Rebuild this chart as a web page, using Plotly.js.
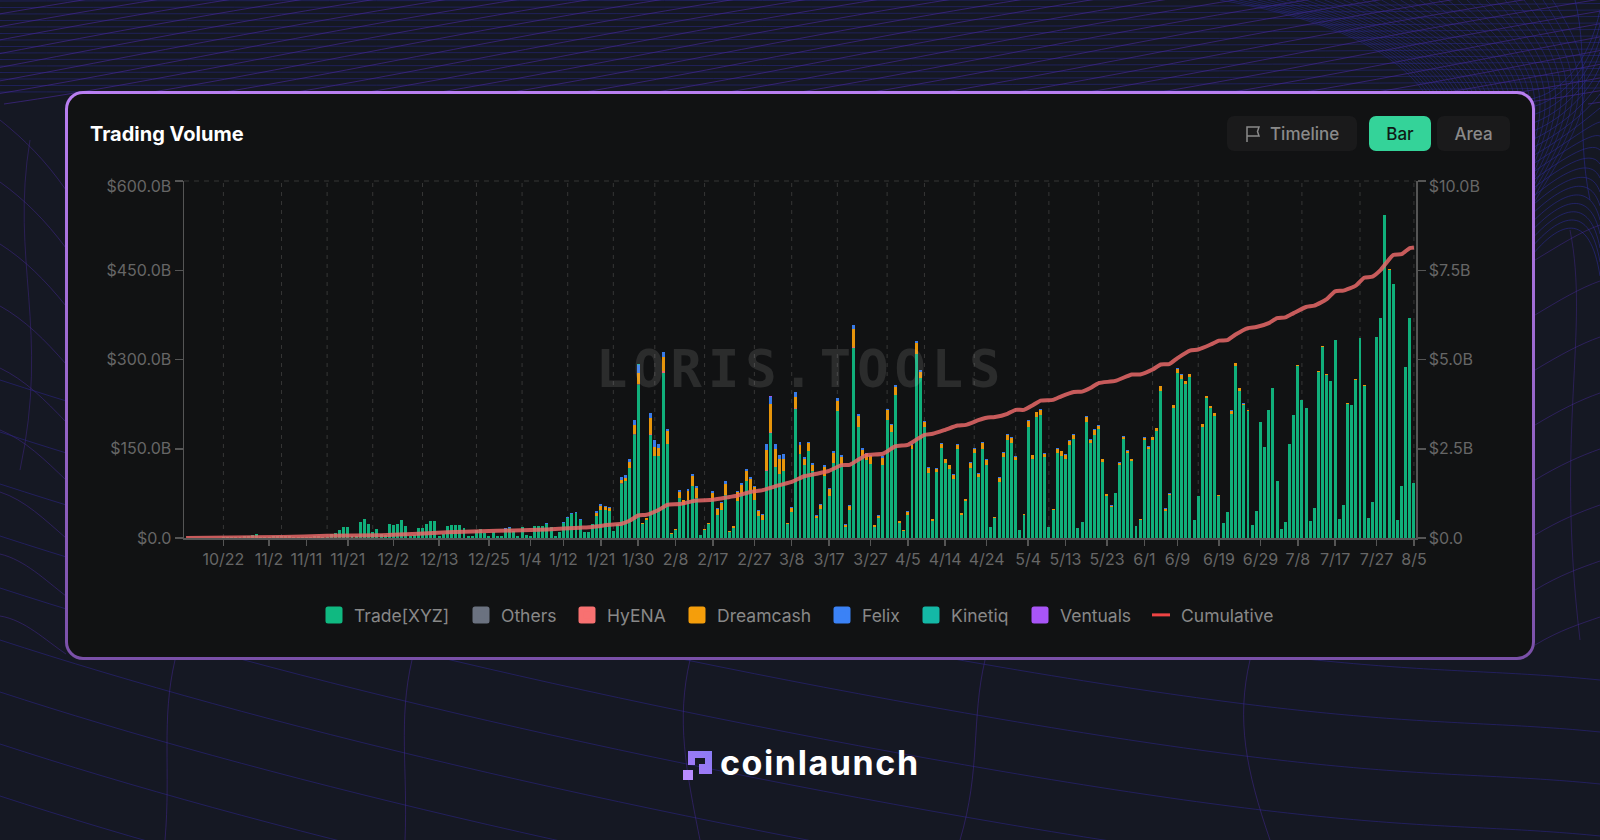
<!DOCTYPE html>
<html>
<head>
<meta charset="utf-8">
<title>Trading Volume</title>
<script src="https://cdn.plot.ly/plotly-3.0.1.min.js"></script>
<style>
html,body{margin:0;padding:0;background:#151823;width:1600px;height:840px;overflow:hidden;font-family:Inter,sans-serif}
#bg{position:absolute;left:0;top:0}
#card{position:absolute;left:65px;top:91px;width:1470px;height:569px;box-sizing:border-box;border:3px solid transparent;border-radius:18px;
background:linear-gradient(#111213,#111213) padding-box,linear-gradient(180deg,#b97ff2,#7a50a8) border-box}
#chart{position:absolute;left:0;top:0;width:1600px;height:840px}
.btn{position:absolute;top:116px;height:35px;line-height:35px;border-radius:7px;background:#1a1a1b;color:#8a8a8a;font:500 17px/37px Inter,sans-serif;text-align:center;box-sizing:border-box}
#btnBar{background:#34d399;color:#0f1a16}
#logoText{position:absolute;left:720px;top:741px;color:#fff;font:700 34px/44px Inter,sans-serif;letter-spacing:1.6px}
.annotation-text{letter-spacing:6px}
</style>
</head>
<body>
<svg id="bg" width="1600" height="840"></svg>
<div id="card"></div>
<div id="chart"></div>
<div class="btn" id="btnTimeline" style="left:1227px;width:130px;text-align:left;padding-left:43px">
<svg style="position:absolute;left:17px;top:9px" width="18" height="18" viewBox="0 0 18 18" fill="none" stroke="#8a8a8a" stroke-width="1.5"><path d="M3 17V2h12l-1.500 4.500 1.500 4.500H3"/></svg>Timeline</div>
<div class="btn" id="btnBar" style="left:1369px;width:62px">Bar</div>
<div class="btn" id="btnArea" style="left:1437px;width:73px">Area</div>
<svg style="position:absolute;left:683px;top:751px" width="30" height="29" viewBox="0 0 30 29">
<defs><linearGradient id="lg" x1="0" y1="1" x2="1" y2="0"><stop offset="0" stop-color="#a678f5"/><stop offset="1" stop-color="#8a7cf5"/></linearGradient></defs>
<path fill="url(#lg)" d="M5 0H29V23H16V13H22V7H12V14H5Z"/><rect x="0" y="19" width="10" height="10" fill="#b98cff"/></svg>
<div id="logoText">coinlaunch</div>
<script>
// ---------- chart data (billions) ----------
var startDate = '2025-10-13';
var seriesNames = ['Trade[XYZ]','Others','HyENA','Dreamcash','Felix','Kinetiq','Ventuals'];
var seriesColors = ['#10b981','#6b7280','#f87171','#f59e0b','#3b82f6','#14b8a6','#a855f7'];
var cumulativeName = 'Cumulative';
var tradeXYZ = [
.5,.5,.5,.5,.5,.5,.5,.5,.5,1,
1,1,1,1.5,2.8,3.9,5,6.2,1.7,1,
1,3,3,3,3,3.5,1,1,1,1,
1.5,3.4,3.4,2,2,6.7,7.8,12.9,18.5,19,
2.8,3.4,26.3,31.4,23.5,10,15,6.2,5.6,23.5,
22.4,24,30,20,3.9,5,17.4,16.8,23,28,
29,2.8,7.3,20,21.8,22,22,16.2,2.8,2.8,
14,15.7,8.4,2.8,10.6,2.8,3.9,15.9,16.5,11.8,
2.8,18.5,5,3.9,19.6,19.6,20,23.1,18.5,3.9,
10,24.8,33.2,40.5,41.5,30.5,10.6,10.6,24,36.4,
47.6,47.6,45,11,24,91.3,95.2,117.6,173.6,257.6,
24,31,173.6,137,138,278,158.5,6,13.7,67,
56,64.4,88,67,5.6,13,23,64,39,46.5,
73,10,17,61.6,74.5,95,80,64.4,36.4,30,
112,176.4,119,108,112,23,43.7,216.7,141.7,122,
147,112,33.6,48.7,103.6,70,126,214,123,18.5,
47.6,319,186,137,131.6,125,18.5,33.6,123,199,
179,240,25,11,39,149.5,310,269,186.5,110,
29,111,152,126,116,100,149.5,39,62,117.6,
143,102.5,150,123,18,33,93.5,136,164,159.6,
130.5,13,38,186.5,133,203,206,136,18,47,
143,137,133,155.7,166,17,27.5,195,159,173.6,
182.6,128,71,52,76,122.6,166,143,129,19.6,
31,164,150,165,180,247.5,46,71.7,218,278,
268,259,270,30,70,187,235,218,205.5,71,
26,44,209,289,247,223,213,22.4,45,195,
153,214.5,252,96,15,27,158,207,289.5,232,
218,28,50,279.4,321.4,274.4,264,332,32.5,56,
226,223,266,335.4,256,33.6,60,337.7,369.6,543,
450.8,426.7,31,87,286.7,369.6,92.4];
var dreamcash = [
0,0,0,0,0,0,0,0,0,0, 0,0,0,0,0,0,0,0,0,0, 0,0,0,0,0,0,0,0,0,0, 0,0,0,0,0,0,0,0,0,0, 0,0,0,0,0,0,0,0,0,0,
0,0,0,0,0,0,0,0,0,0, 0,0,0,0,0,0,0,0,0,0, 0,0,0,0,0,0,0,0,0,0, 0,0,0,0,0,0,0,0,0,0, 0,0,0,0,0,0,0,0,0,5.6,
6,5,5.5,0,0,5.6,5.6,10,15,18.5,
2,2.6,27,15,13,24,20.7,2,2,11,
8.4,15,17,17,0,2,3,12.3,10,12,
18.5,2.5,3,15,15,17,19,21,8.4,8,
35,47.6,30,24,21,3,6,19.6,15,10.6,
12.3,11,3.4,7,16,12,17,15.7,13,4,
6,30,18.5,11,10,12.3,3,3.4,12,15.7,
11,13.4,3,2,4,7.5,17,9.5,9,7.5,
3,5.5,6.5,6,6,6.5,7.5,3,3.5,8,
7,5,9.5,8.5,0,2,7,6.5,9,8.5,
5.5,0,3,10,6,8,9.5,6,0,2.5,
7,8.5,7,8,7,0,0,9,6.5,8,
6,4,3,2.4,0,4,4,4,3,0,
1.5,4.4,3.5,4,4.4,7.5,3.4,3,5.5,6.5,
6.5,5,5,1,1,4.4,4,4,4,1.8,
0,0,5,5,4.5,3,1.5,0,0,.5,
.4,.5,.5,.3,0,0,.4,.5,.5,.5,
.4,0,0,.5,.5,.5,.5,.5,0,0,
.5,.5,.5,.5,.5,0,0,.5,.5,.5,
.5,.5,0,0,.5,.5,0];
var felix = [
0,0,0,0,0,0,0,0,0,0, 0,0,0,0,0,0,0,0,0,0, 0,0,0,0,0,0,0,0,0,0, 0,0,0,0,0,0,0,0,0,0, 0,0,0,0,0,0,0,0,0,0,
0,0,0,0,0,0,0,0,0,0, 0,0,0,0,0,0,0,0,0,0,
0,0,0,0,0,0,0,1.5,1.5,0,
0,0,0,0,0,0,0,1.5,0,0,
0,1.5,1.5,1.5,1.5,1.5,0,0,0,3,
4,1.5,1.5,0,0,5.6,5.6,5,10,13.4,
0,0,8.4,13,7,8.4,4.5,0,0,2.8,
0,2.8,3.4,2.8,0,0,0,3.4,2,1.5,
4,0,0,2.8,2.8,4,2.8,2.8,2.8,2.8,
9.5,11,8.4,6.7,8,0,2.4,8.4,4.5,3.4,
2.8,2.8,1,1.4,2.8,2,4,5.6,2.8,1,
1.4,6.7,3.4,2.8,1.5,2.8,1,1,2,2.8,
2,3.4,0,0,1.6,1.5,4.5,3.4,1.6,1.5,
0,1.2,1.3,1.3,1.3,1.3,1.5,0,0,1.5,
1.4,1.2,1.7,1.5,0,0,1.4,1.3,1.7,1.6,
1.2,0,0,2.4,1,1.5,1.7,1,0,0,
1.2,1.2,1.2,1.4,1.4,0,0,1.6,1.2,1.4,
1.2,1,.5,.4,0,.5,.8,.5,.4,0,
0,.6,.4,.6,.6,1,.4,.4,.7,.8,
.8,.6,.6,0,0,.6,.5,.5,.5,0,
0,0,.6,.6,.5,.4,.3,0,0,0,
0,0,0,0,0,0,0,0,0,0, 0,0,0,0,0,0,0,0,0,0, 0,0,0,0,0,0,0,0,0,0, 0,0,0,0,0,0,0];
var hyenaDays = [109,112,115,140,141,147,161];
var hyenaValues = [1.5,1.5,3,1.5,2,1.5,2];
var othersDays = [93,105,108,109,113];
var othersValues = [.5,.5,.5,.5,.5];
var kinetiqDays = [109,141,161];
var kinetiqValues = [.5,.5,.5];
var ventualsDays = [109,141,176];
var ventualsValues = [.4,.4,.4];
var cumulativeDays = [0,23,34,47,56,63,71,79,87,95,98,102,105,107,109,111,114,116,119,123,127,131,133,136,139,143,146,149,152,155,158,160,162,164,168,171,174,176,178,180,183,186,188,191,193,195,198,200,202,204,206,209,211,214,216,218,220,224,228,230,233,235,237,239,242,244,247,249,251,253,256,258,261,263,265,267,270,272,275,277,279,282,284,286,288,291,293,295,296];
var cumulativeValues = [0,.03,.06,.08,.12,.16,.19,.21,.24,.29,.31,.37,.40,.49,.63,.65,.79,.93,.95,1.05,1.07,1.15,1.19,1.29,1.34,1.48,1.57,1.73,1.80,1.88,2.04,2.05,2.19,2.32,2.36,2.57,2.61,2.75,2.89,2.92,3.03,3.15,3.17,3.30,3.37,3.39,3.48,3.59,3.59,3.71,3.85,3.87,3.97,4.09,4.10,4.20,4.34,4.40,4.58,4.58,4.72,4.86,4.87,5.04,5.25,5.28,5.42,5.53,5.54,5.70,5.88,5.91,6.02,6.16,6.18,6.30,6.47,6.51,6.69,6.91,6.93,7.07,7.29,7.32,7.51,7.93,7.95,8.12,8.14];
var xTickDays = [9,20,29,39,50,61,73,83,91,100,109,118,127,137,146,155,165,174,183,193,203,212,222,231,239,249,259,268,277,287,296];
var xTickLabels = ['10/22','11/2','11/11','11/21','12/2','12/13','12/25','1/4','1/12','1/21','1/30','2/8','2/17','2/27','3/8','3/17','3/27','4/5','4/14','4/24','5/4','5/13','5/23','6/1','6/9','6/19','6/29','7/8','7/17','7/27','8/5'];
var gridDays = [9,23,34,45,57,70,81,92,103,113,125,137,146,157,169,178,190,200,208,220,233,244,256,269,283,296];
var leftTickVals = [0,150,300,450,600];
var leftTickText = ['$0.0','$150.0B','$300.0B','$450.0B','$600.0B'];
var rightTickVals = [0,2.5,5,7.5,10];
var rightTickText = ['$0.0','$2.5B','$5.0B','$7.5B','$10.0B'];

// ---------- helpers ----------
function dayToDate(d){
  var t = new Date(Date.parse(startDate+'T00:00:00Z')+d*86400000);
  return t.toISOString().slice(0,10);
}
var allDays = tradeXYZ.map(function(_,i){return i;});
function barTrace(k,days,vals){
  return {type:'bar',name:seriesNames[k],x:days.map(dayToDate),y:vals,yaxis:'y',
    marker:{color:seriesColors[k],line:{width:0}},opacity:.94,hoverinfo:'skip'};
}
var traces = [
  barTrace(0,allDays,tradeXYZ),
  barTrace(1,othersDays,othersValues),
  barTrace(2,hyenaDays,hyenaValues),
  barTrace(3,allDays,dreamcash),
  barTrace(4,allDays,felix),
  barTrace(5,kinetiqDays,kinetiqValues),
  barTrace(6,ventualsDays,ventualsValues),
  {type:'scatter',mode:'lines',name:cumulativeName,x:cumulativeDays.map(dayToDate),y:cumulativeValues,yaxis:'y2',
   line:{color:'rgba(232,104,104,.85)',width:4,shape:'spline',smoothing:.5},hoverinfo:'skip'}
];
var axisCol = '#555';
var tickFont = {family:'Inter, sans-serif',size:16,color:'#666'};
var shapes = gridDays.map(function(d){
  return {type:'line',layer:'below',xref:'x',yref:'paper',x0:dayToDate(d),x1:dayToDate(d),y0:0,y1:1,
    line:{color:'#363636',width:1,dash:'4px,5px'}};
});
shapes.push({type:'line',layer:'below',xref:'paper',yref:'paper',x0:0,x1:1,y0:1,y1:1,line:{color:'#363636',width:1,dash:'5px,5px'}});
var layout = {
  width:1600,height:840,autosize:false,
  paper_bgcolor:'rgba(0,0,0,0)',plot_bgcolor:'rgba(0,0,0,0)',
  margin:{l:184,r:184,t:181,b:302,pad:0},
  barmode:'stack',bargap:.28,
  title:{text:'Trading Volume',font:{family:'Inter, sans-serif',size:20,weight:700,color:'#ffffff'},
    x:90/1600,xref:'container',xanchor:'left',y:1-134/840,yref:'container',yanchor:'middle',pad:{l:0,t:0,r:0,b:0}},
  font:{family:'Inter, sans-serif',color:'#666'},
  xaxis:{type:'date',range:['2025-10-12 12:00','2026-08-05 12:00'],tickmode:'array',
    tickvals:xTickDays.map(dayToDate),ticktext:xTickLabels,ticks:'outside',ticklen:6,tickcolor:axisCol,tickwidth:1.5,
    showgrid:false,zeroline:false,showline:true,linecolor:axisCol,linewidth:1.5,tickfont:tickFont,tickangle:0},
  yaxis:{range:[0,600],tickmode:'array',tickvals:leftTickVals,ticktext:leftTickText,ticks:'outside',ticklen:8,tickcolor:axisCol,tickwidth:1.5,
    showgrid:false,zeroline:false,showline:true,linecolor:axisCol,linewidth:1.5,tickfont:tickFont},
  yaxis2:{range:[0,10],overlaying:'y',side:'right',tickmode:'array',tickvals:rightTickVals,ticktext:rightTickText,ticks:'outside',ticklen:8,tickcolor:axisCol,tickwidth:1.5,
    showgrid:false,zeroline:false,showline:true,linecolor:axisCol,linewidth:1.5,tickfont:tickFont},
  showlegend:true,
  legend:{orientation:'h',traceorder:'normal',x:.4992,xanchor:'center',y:-77/357,yanchor:'middle',
    font:{family:'Inter, sans-serif',size:17.5,color:'#888'},bgcolor:'rgba(0,0,0,0)',itemclick:false,itemdoubleclick:false},
  annotations:[{text:'LORIS.TOOLS',xref:'paper',yref:'paper',x:(801-184)/1232,y:(538-369)/357,xanchor:'center',yanchor:'middle',showarrow:false,
    font:{family:'DejaVu Sans Mono, monospace',size:52,weight:700,color:'rgba(255,255,255,.11)'}}],
  shapes:shapes
};
var legendCenters = [334,481,587,697,842,931,1040,1161];

Plotly.newPlot('chart',traces,layout,{displayModeBar:false,staticPlot:true}).then(function(){
  var root=document.getElementById('chart');
  root.querySelectorAll('.legend .legendpoints path').forEach(function(p){
    var f=getComputedStyle(p).fill;
    p.style.stroke=f; p.style.strokeWidth='5px'; p.style.strokeLinejoin='round'; p.style.strokeOpacity=1; p.style.fillOpacity=1; p.style.opacity=1;
  });
  root.querySelectorAll('.legend .traces').forEach(function(g){
    g.style.opacity=1;
    g.querySelectorAll('g').forEach(function(h){h.style.opacity=1;});
  });
  root.querySelectorAll('.legend .legendlines path').forEach(function(p){
    p.setAttribute('d','M11,0h18'); p.style.stroke='#ef4444'; p.style.strokeOpacity=1; p.style.strokeWidth='3px';
  });
  // spread the legend entries to the original spacing
  var sb=root.querySelector('.legend .scrollbox'); if(sb){sb.removeAttribute('clip-path');}
  root.querySelectorAll('.legend .traces').forEach(function(g,k){
    var pt=g.querySelector('.legendpoints path')||g.querySelector('.legendlines path');
    var r=pt.getBoundingClientRect();
    var dx=legendCenters[k]-(r.left+r.right)/2;
    var m=/translate\(([-\d.]+)[ ,]+([-\d.]+)\)/.exec(g.getAttribute('transform')||'');
    if(m){g.setAttribute('transform','translate('+(+m[1]+dx)+','+m[2]+')');}
  });
  // first/last tick labels sit inside like the original
  var lt=root.querySelectorAll('.ytick text'); if(lt.length){var a=lt[lt.length-1]; a.setAttribute('y',+a.getAttribute('y')+5);}
  var rt=root.querySelectorAll('.y2tick text'); if(rt.length){var b=rt[rt.length-1]; b.setAttribute('y',+b.getAttribute('y')+5);}
});

// ---------- decorative page background ----------
(function(){
  var s=[];
  function P(d,c,o,w){s.push('<path d="'+d+'" fill="none" stroke="'+c+'" stroke-opacity="'+o+'" stroke-width="'+(w||1)+'"/>');}
  var blue='#2a2a90',purple='#4a2aa0';
  var y,x,i;
  // dense near-horizontal band on top
  for(y=1;y<93;y+=6.5){P('M0,'+y+' C500,'+(y-1)+' 1000,'+(y+1)+' 1600,'+(y-4),blue,.5);}
  // shallow diagonals on top
  for(x=-500;x<1700;x+=72){P('M'+x+',104 C'+(x+180)+',78 '+(x+330)+',40 '+(x+620)+',-6',purple,.6);}
  // right side sweep of arcs
  for(i=0;i<36;i++){P('M'+(1220+i*9.5)+',0 C'+(1390+i*6.5)+','+(30+i*2)+' '+(1470+i*3)+','+(90+i)+' '+(1440+i*2)+','+(210+i),blue,.5);}
  for(i=0;i<20;i++){P('M1520,'+(100+i*9)+' C1560,'+(100+i*6)+' 1590,'+(60+i*8)+' 1600,'+(10+i*14),blue,.6);}
  P('M1575,0 C1590,60 1575,130 1590,200',blue,.6);
  // sparse curves left and right of the card
  for(i=0;i<9;i++){P('M0,'+(120+i*62)+' C25,'+(140+i*60)+' 45,'+(160+i*60)+' 66,'+(190+i*58),purple,.45);}
  for(i=0;i<8;i++){P('M1535,'+(260+i*55)+' C1560,'+(245+i*55)+' 1580,'+(232+i*56)+' 1600,'+(225+i*56),purple,.45);}
  P('M30,140 C10,260 50,330 20,470',purple,.4);P('M1570,230 C1590,330 1555,430 1580,640',purple,.4);
  // lower region: long falling curves plus a few crossing verticals
  for(y=380;y<840;y+=52){P('M0,'+y+' C260,'+(y+85)+' 620,'+(y+170)+' 1000,'+(y+235)+' S1450,'+(y+285)+' 1600,'+(y+300),'#2a2480',.62);}
  [[175,660,165,840],[412,660,405,840],[690,660,700,840],[985,660,960,840],[1250,660,1270,840]].forEach(function(v){
    P('M'+v[0]+','+v[1]+' C'+(v[0]-14)+',720 '+(v[0]-4)+',770 '+v[2]+','+v[3],purple,.45);});
  document.getElementById('bg').innerHTML=s.join('');
})();
</script>
</body>
</html>
